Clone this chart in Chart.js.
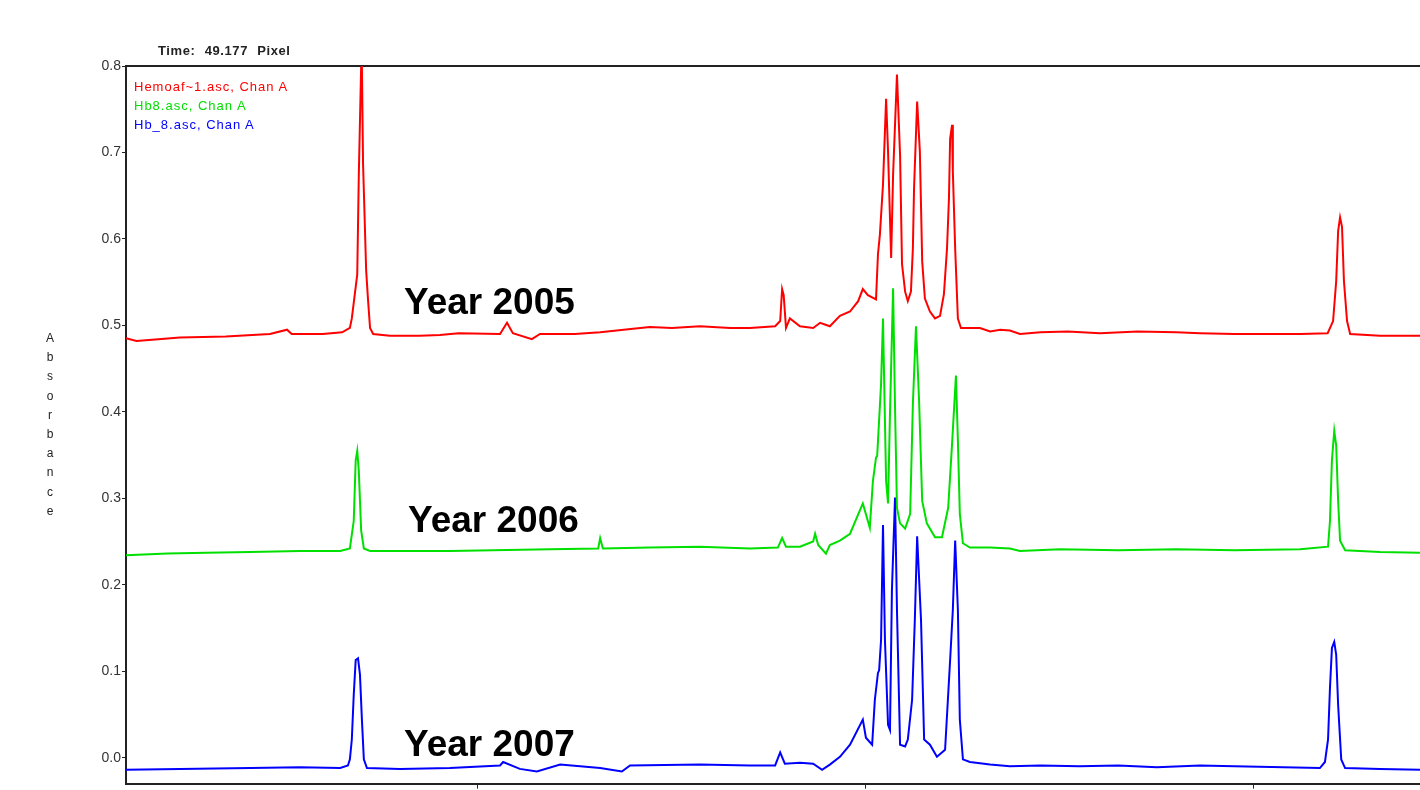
<!DOCTYPE html>
<html>
<head>
<meta charset="utf-8">
<script src="https://cdn.jsdelivr.net/npm/chart.js@4"></script>
<style>
  html,body{margin:0;padding:0;background:#fff;overflow:hidden;}
  #wrap{position:relative;width:1420px;height:790px;overflow:hidden;}
  canvas{position:absolute;left:0;top:0;}
  .lbl{position:absolute;font-family:"Liberation Sans",Arial,sans-serif;white-space:nowrap;}
  .year{font-size:37px;font-weight:bold;color:#000;line-height:38px;}
  .leg{font-size:13px;line-height:19px;left:134px;letter-spacing:1px;}
</style>
</head>
<body>
<div id="wrap">
  <canvas id="c" width="1420" height="793"></canvas>
  <div class="lbl" style="left:158px;top:43px;font-size:13px;font-weight:bold;color:#222;letter-spacing:0.6px;word-spacing:5px;">Time: 49.177 Pixel</div>
  <div class="lbl leg" style="top:77px;color:#ff0000;">Hemoaf~1.asc, Chan A</div>
  <div class="lbl leg" style="top:96px;color:#00e000;">Hb8.asc, Chan A</div>
  <div class="lbl leg" style="top:115px;color:#0000ff;">Hb_8.asc, Chan A</div>
  <div class="lbl" style="left:45px;top:329px;width:10px;font-size:12px;line-height:19.2px;white-space:normal;word-break:break-all;text-align:center;color:#222;">Absorbance</div>
  <div class="lbl year" style="left:404px;top:283px;">Year 2005</div>
  <div class="lbl year" style="left:408px;top:501px;">Year 2006</div>
  <div class="lbl year" style="left:404px;top:725px;">Year 2007</div>
</div>
<script>
// retention time (x) and absorbance (y) for each trace
const redT = [0.93,1.2,2.32,3.5,4.64,5.08,5.2,6.0,6.5,6.70,6.75,6.89,6.93,6.99,7.01,7.04,7.12,7.17,7.22,7.30,7.73,8.5,9.02,9.5,10.57,10.75,10.9,11.39,11.6,12.5,13.15,14.0,14.43,15.0,15.72,16.5,17.01,17.66,17.79,17.84,17.88,17.94,18.04,18.30,18.64,18.82,19.07,19.33,19.59,19.80,19.92,20.05,20.26,20.31,20.36,20.44,20.52,20.57,20.65,20.70,20.80,20.88,20.93,21.01,21.08,21.16,21.21,21.24,21.32,21.39,21.45,21.52,21.65,21.78,21.91,22.01,22.09,22.14,22.17,22.22,22.24,22.30,22.37,22.45,22.94,23.20,23.46,23.71,23.97,24.5,25.2,26.03,27.0,28.0,28.61,29.5,31.19,31.9,32.04,32.12,32.17,32.22,32.27,32.32,32.40,32.48,33.25,34.28];
const redA = [0.485,0.482,0.486,0.487,0.490,0.495,0.490,0.490,0.492,0.497,0.508,0.559,0.674,0.798,0.800,0.686,0.563,0.528,0.497,0.490,0.488,0.488,0.489,0.491,0.490,0.503,0.491,0.484,0.490,0.490,0.492,0.496,0.498,0.497,0.499,0.497,0.497,0.499,0.505,0.542,0.535,0.497,0.508,0.499,0.497,0.503,0.499,0.511,0.516,0.528,0.542,0.535,0.530,0.582,0.605,0.663,0.762,0.701,0.578,0.674,0.790,0.697,0.571,0.539,0.528,0.539,0.589,0.658,0.759,0.701,0.574,0.531,0.516,0.508,0.511,0.536,0.589,0.647,0.716,0.732,0.678,0.589,0.508,0.497,0.497,0.493,0.495,0.494,0.490,0.492,0.493,0.491,0.493,0.492,0.491,0.490,0.490,0.491,0.505,0.551,0.609,0.625,0.614,0.551,0.505,0.490,0.488,0.488];

const greenT = [0.93,2.0,3.0,4.13,5.41,6.45,6.70,6.80,6.85,6.89,6.93,6.99,7.06,7.22,9.28,11.86,13.10,13.15,13.22,14.43,15.72,17.01,17.73,17.84,17.94,18.30,18.64,18.69,18.77,18.97,19.07,19.33,19.59,19.92,20.10,20.18,20.26,20.29,20.39,20.44,20.47,20.52,20.57,20.62,20.70,20.75,20.80,20.88,21.01,21.14,21.21,21.29,21.37,21.45,21.57,21.78,21.96,22.12,22.22,22.32,22.37,22.42,22.50,22.68,23.20,23.71,23.97,25.0,26.5,28.0,29.5,31.19,31.91,31.96,32.01,32.07,32.12,32.17,32.22,32.35,33.25,34.28];
const greenA = [0.234,0.236,0.237,0.238,0.239,0.239,0.242,0.274,0.344,0.355,0.332,0.263,0.242,0.239,0.239,0.241,0.242,0.254,0.242,0.243,0.244,0.242,0.243,0.254,0.244,0.244,0.250,0.259,0.246,0.236,0.246,0.251,0.259,0.294,0.266,0.320,0.347,0.349,0.432,0.508,0.436,0.320,0.294,0.398,0.543,0.405,0.289,0.271,0.265,0.282,0.409,0.499,0.413,0.297,0.271,0.255,0.255,0.289,0.363,0.442,0.367,0.282,0.248,0.243,0.243,0.242,0.239,0.241,0.240,0.241,0.240,0.241,0.244,0.274,0.344,0.378,0.361,0.297,0.251,0.240,0.238,0.237];

const blueT = [0.93,2.32,4.13,5.41,6.45,6.65,6.70,6.75,6.80,6.85,6.91,6.96,7.01,7.06,7.14,7.99,9.28,10.57,10.65,11.08,11.52,12.12,13.15,13.71,13.92,15.72,17.01,17.66,17.79,17.91,18.30,18.64,18.87,19.07,19.33,19.59,19.92,20.00,20.16,20.23,20.31,20.34,20.39,20.44,20.49,20.57,20.62,20.67,20.75,20.80,20.88,21.01,21.08,21.19,21.26,21.32,21.42,21.50,21.65,21.83,22.04,22.17,22.24,22.30,22.37,22.42,22.50,22.68,23.20,23.71,24.5,25.5,26.5,27.5,28.61,29.5,31.70,31.83,31.91,31.96,32.01,32.07,32.12,32.17,32.25,32.35,33.25,34.28];
const blueA = [-0.014,-0.013,-0.012,-0.011,-0.012,-0.009,-0.002,0.021,0.073,0.113,0.115,0.096,0.044,-0.002,-0.012,-0.013,-0.012,-0.009,-0.005,-0.013,-0.016,-0.008,-0.012,-0.016,-0.009,-0.008,-0.009,-0.009,0.006,-0.007,-0.006,-0.007,-0.014,-0.008,0.001,0.015,0.044,0.023,0.015,0.067,0.098,0.101,0.136,0.269,0.136,0.038,0.032,0.194,0.301,0.171,0.015,0.013,0.021,0.067,0.159,0.256,0.159,0.021,0.015,0.001,0.009,0.113,0.171,0.251,0.171,0.044,-0.002,-0.005,-0.008,-0.010,-0.009,-0.010,-0.009,-0.011,-0.009,-0.010,-0.012,-0.005,0.021,0.081,0.127,0.134,0.119,0.061,-0.002,-0.012,-0.013,-0.014];

const yTicks = [0.0,0.1,0.2,0.3,0.4,0.5,0.6,0.7,0.8];
const xTicks = [10,20,30];

const pts = (t,a)=>t.map((x,i)=>({x, y:a[i]}));
const line = (data,color)=>({data, borderColor:color, borderWidth:2, pointRadius:0, tension:0, fill:false});

const axisCol = '#222';
new Chart(document.getElementById('c'), {
  type:'line',
  data:{datasets:[
    line(pts(redT,redA),'#ff0000'),
    line(pts(greenT,greenA),'#00e000'),
    line(pts(blueT,blueA),'#0000ff')
  ]},
  options:{
    responsive:false, animation:false,
    layout:{padding:{top:66,left:0,right:0,bottom:0}},
    plugins:{legend:{display:false}, tooltip:{enabled:false}},
    scales:{
      x:{type:'linear', min:0.93, max:34.28,
        afterBuildTicks: ax=>{ ax.ticks = xTicks.map(v=>({value:v})); },
        ticks:{display:false},
        grid:{drawOnChartArea:false, drawTicks:true, tickLength:5, color:axisCol},
        border:{display:true, color:axisCol, width:2}},
      xTop:{type:'linear', position:'top', min:0.93, max:34.28,
        ticks:{display:false},
        grid:{drawOnChartArea:false, drawTicks:false},
        border:{display:true, color:axisCol, width:2}},
      y:{type:'linear', min:-0.03, max:0.8,
        afterBuildTicks: ax=>{ ax.ticks = yTicks.map(v=>({value:v})); },
        afterFit: ax=>{ ax.width = 126; },
        ticks:{padding:1, color:'#333', font:{family:'Liberation Sans, Arial', size:14}, callback:v=>v.toFixed(1)},
        grid:{drawOnChartArea:false, drawTicks:true, tickLength:4, color:axisCol},
        border:{display:true, color:axisCol, width:2}}
    }
  }
});
</script>
</body>
</html>
